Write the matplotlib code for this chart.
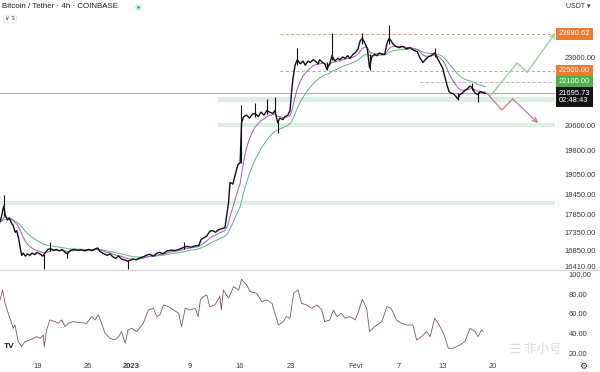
import matplotlib
matplotlib.use('Agg')
import matplotlib.pyplot as plt
import numpy as np
from matplotlib.transforms import blended_transform_factory
from matplotlib.ticker import NullLocator, NullFormatter
from matplotlib.lines import Line2D

plt.rcParams['font.family'] = ['Liberation Sans', 'DejaVu Sans']

# ---------------- data (x = days since 19 Dec 2022) ----------------
price_days = [
    -5.2, -5.0, -4.7, -4.5, -4.2, -3.9, -3.6, -3.4, -3.1, -2.9,
    -2.6, -2.4, -2.2, -2.0, -1.7, -1.4, -1.1, -0.8, -0.4, -0.1,
    0.3, 0.7, 1.0, 1.4, 1.8, 2.2, 2.6, 3.0, 3.4, 3.8,
    4.1, 4.5, 5.0, 5.5, 6.0, 6.5, 7.0, 7.5, 7.9, 8.3,
    8.6, 9.0, 9.6, 10.0, 10.4, 10.8, 11.2, 11.6, 12.0, 12.5,
    12.9, 13.2, 13.6, 14.0, 14.6, 15.0, 15.5, 16.0, 16.5, 16.9,
    17.3, 17.9, 18.5, 19.0, 19.5, 20.0, 20.4, 20.7, 21.2, 21.8,
    22.3, 22.6, 23.0, 23.4, 23.8, 24.2, 24.6, 25.0, 25.4, 25.9,
    26.2, 26.4, 26.6, 27.0, 27.4, 27.7, 28.0, 28.2, 28.5, 28.9,
    29.3, 29.7, 30.1, 30.5, 30.9, 31.3, 31.7, 32.1, 32.5, 32.8,
    33.2, 33.5, 33.9, 34.2, 34.6, 34.9, 35.1, 35.3, 35.6, 35.9,
    36.3, 36.7, 37.0, 37.4, 37.7, 38.1, 38.4, 38.8, 39.0, 39.4,
    39.7, 40.0, 40.4, 40.7, 41.1, 41.5, 41.8, 42.2, 42.5, 42.9,
    43.2, 43.6, 43.9, 44.3, 44.6, 44.9, 45.3, 45.6, 45.9, 46.2,
    46.6, 46.9, 47.3, 47.6, 48.0, 48.3, 48.6, 48.9, 49.1, 49.5,
    50.0, 50.5, 51.0, 51.5, 52.0, 52.5, 52.9, 53.3, 53.6, 54.0,
    54.4, 54.9, 55.3, 55.6, 56.0, 56.3, 56.6, 56.9, 57.2, 57.5,
    57.8, 58.1, 58.4, 58.8, 59.1, 59.4, 59.8, 60.1, 60.5, 60.9,
    61.2, 61.6, 61.9,
]
price_close = [
    17650, 17800, 18100, 17850, 17700, 17750, 17600, 17550, 17350, 17400,
    17150, 16900, 16720, 16780, 16700, 16760, 16720, 16780, 16740, 16800,
    16760, 16700, 16780, 16880, 16900, 16860, 16880, 16840, 16880, 16800,
    16760, 16850, 16880, 16860, 16870, 16840, 16880, 16850, 16890, 16920,
    16830, 16780, 16720, 16760, 16680, 16640, 16700, 16620, 16600, 16560,
    16600, 16620, 16600, 16640, 16680, 16720, 16750, 16700, 16780, 16800,
    16760, 16840, 16860, 16850, 16880, 16920, 16950, 16960, 16940, 16980,
    16990, 17150, 17200, 17250, 17380, 17400, 17350, 17420, 17450, 17480,
    17900, 18200, 18800, 18750, 19100, 19350, 19400, 20700, 20900, 20950,
    20850, 20980, 21000, 20900, 21050, 20950, 21100, 21050, 21000, 21100,
    20700, 20850, 20800, 20900, 20950, 21100, 21700, 22200, 22700, 22900,
    22750, 22850, 22700, 22850, 22800, 22900, 22850, 22750, 22900, 22800,
    22750, 22550, 22750, 23050, 22850, 22950, 22900, 23000, 22950, 23050,
    22950, 23100, 23150, 23300, 23600, 23700, 23500, 23300, 22600, 23000,
    23100, 23050, 23150, 23100, 23100, 23500, 23700, 23600, 23500, 23400,
    23350, 23400, 23300, 23350, 23250, 23200, 22950, 22800, 22900, 23000,
    23050, 23150, 22950, 22800, 22600, 22300, 22000, 21750, 21700, 21680,
    21600, 21500, 21650, 21720, 21800, 21850, 21950, 21900, 21700, 21650,
    21750, 21720, 21695.73,
]
wick_days = [-4.7, 0.9, 1.7, 4.1, 12.5, 20.2, 28.1, 30.1, 31.7, 32.8, 33.2,
             35.9, 40.0, 40.7, 44.9, 45.9, 48.6, 54.9, 58.1, 60.1, 60.9]
wick_low = [17800, 16370, 16850, 16650, 16370, 16900, 19400, 20900, 21000, 21000, 20350,
            22700, 22520, 22900, 23500, 22520, 23500, 23000, 21465, 21800, 21395]
wick_high = [18430, 16760, 17070, 16800, 16600, 17070, 21290, 21360, 21500, 21580, 20800,
             23340, 22800, 23900, 23900, 23100, 24215, 23340, 21700, 22058, 21750]

rsi_days = [
    -5.21, -4.85, -4.52, -4.06, -3.60, -3.37, -3.14, -2.91, -2.68, -2.22,
    -1.76, -1.07, -0.60, -0.14, 0.32, 0.78, 0.92, 1.24, 1.70, 2.39,
    2.85, 3.32, 3.78, 4.24, 4.93, 5.85, 6.77, 7.46, 7.93, 8.39,
    8.85, 9.31, 10.0, 10.7, 11.2, 11.6, 12.1, 12.5, 13.0, 13.7,
    14.6, 15.3, 16.0, 16.5, 16.9, 17.4, 18.1, 18.8, 19.5, 19.9,
    20.4, 21.1, 21.8, 22.2, 22.5, 22.9, 23.4, 23.8, 24.5, 25.2,
    25.4, 25.7, 26.4, 27.1, 27.8, 28.2, 28.9, 29.4, 30.3, 31.0,
    31.7, 32.4, 33.1, 33.3, 34.0, 34.4, 34.9, 35.4, 36.0, 36.5,
    37.2, 37.9, 38.6, 39.3, 39.7, 40.4, 40.9, 41.4, 42.0, 42.5,
    43.2, 43.9, 44.3, 44.9, 45.5, 45.9, 46.6, 47.6, 48.3, 48.9,
    49.6, 50.3, 51.0, 51.9, 52.4, 53.1, 53.8, 54.3, 54.9, 55.4,
    55.9, 56.3, 56.8, 57.5, 58.4, 59.1, 59.8, 60.5, 60.9, 61.4,
    61.6,
]
rsi_vals = [
    74.0, 84.1, 70.6, 60.5, 50.3, 45.2, 48.6, 40.2, 31.7, 26.7,
    31.7, 33.4, 35.1, 36.8, 35.1, 38.5, 26.7, 43.6, 53.7, 52.0,
    50.3, 53.7, 46.9, 50.3, 52.0, 51.0, 50.3, 57.1, 53.7, 58.8,
    50.3, 40.2, 35.1, 33.4, 36.8, 41.9, 30.0, 43.6, 45.2, 41.9,
    50.3, 63.8, 65.5, 57.1, 58.8, 68.9, 67.2, 63.8, 60.5, 46.9,
    65.5, 63.8, 65.5, 57.1, 74.0, 77.4, 79.1, 67.2, 68.9, 77.4,
    63.8, 84.1, 75.7, 87.5, 84.1, 94.9, 89.2, 82.4, 80.7, 72.3,
    74.0, 70.6, 53.7, 48.6, 52.0, 57.1, 55.4, 80.7, 84.1, 70.6,
    68.9, 65.5, 68.9, 63.8, 52.0, 53.7, 63.8, 57.1, 60.5, 55.4,
    57.1, 53.7, 60.5, 74.7, 65.5, 41.9, 46.9, 52.0, 67.2, 65.5,
    53.7, 50.3, 48.6, 48.6, 33.4, 36.8, 41.9, 36.8, 55.4, 50.3,
    43.6, 36.8, 25.0, 25.0, 28.4, 31.7, 45.2, 41.9, 36.8, 43.6,
    41.9,
]

price_ticks = [16410, 16850, 17350, 17850, 18450, 19050, 19800, 20600, 23000]
rsi_ticks = [20, 40, 60, 80, 100]
date_ticks = [0, 7, 13, 21, 28, 35, 44, 50, 56, 63]
date_labels = ['19', '26', '2023', '9', '16', '23', 'Févr', '7', '13', '20']

last_price = 21695.73
target_level = 23880.62
resist_level = 22500.00
pivot_level = 22100.00
zones = [(21400, 21560, 25.0), (20560, 20700, 25.0), (18130, 18260, -5.21)]
bull_path_days = [62.6, 66.3, 67.7, 71.6]
bull_path_price = [21603, 22780, 22450, 23906]
bear_path_days = [62.1, 64.2, 65.7, 69.2]
bear_path_price = [21708, 21122, 21500, 20685]

# ---------------- figure ----------------
W, H = 600, 372
fig = plt.figure(figsize=(6, 3.72), dpi=100)
fig.patch.set_facecolor('white')


def fx(x):
    return x / W


def fy(y):
    return 1 - y / H


XMIN, XMAX = -5.21, 71.55
ax = fig.add_axes([0, fy(270), fx(555), 270 / H])
axr = fig.add_axes([0, fy(357), fx(555), 87 / H], sharex=ax)

for a in (ax, axr):
    for s in a.spines.values():
        s.set_visible(False)
    a.set_facecolor('white')

ax.set_yscale('log')
ax.set_xlim(XMIN, XMAX)
ax.set_ylim(16331, 25208)

# zones
for lo, hi, start in zones:
    ax.fill_between([start, XMAX], lo, hi, color='#dcefe3', lw=0, zorder=1)

# level lines
ax.hlines(target_level, 33.5, XMAX, colors='#d9a25c', linestyles=(0, (3, 2.5)), lw=0.7, zorder=2)
ax.hlines(resist_level, 33.5, XMAX, colors='#b8a79a', linestyles=(0, (3, 2.5)), lw=0.7, zorder=2)
ax.hlines(pivot_level, 52.9, XMAX, colors='#b4b8b0', linestyles=(0, (3, 2.5)), lw=0.7, zorder=2)
ax.axhline(last_price, color='#a6a6a6', lw=0.7, zorder=2)


def ema(t, v, tau):
    out = [v[0]]
    for i in range(1, len(v)):
        a = 1 - np.exp(-(t[i] - t[i - 1]) / tau)
        out.append(out[-1] + a * (v[i] - out[-1]))
    return out


ax.plot(price_days, ema(price_days, price_close, 3.0), color='#5fb38a', lw=0.7, zorder=3)
ax.plot(price_days, ema(price_days, price_close, 1.2), color='#a05cb8', lw=0.7, zorder=3)
ax.vlines(wick_days, wick_low, wick_high, colors='#111111', lw=0.8, zorder=4)
ax.plot(price_days, price_close, color='#111111', lw=1.0, zorder=4)

# scenario arrows
ax.plot(bull_path_days[:-1], bull_path_price[:-1], color='#8fcf94', lw=0.9, zorder=5)
ax.annotate('', xy=(bull_path_days[-1], bull_path_price[-1]),
            xytext=(bull_path_days[-2], bull_path_price[-2]),
            arrowprops=dict(arrowstyle='->', color='#8fcf94', lw=0.9, mutation_scale=8,
                            shrinkA=0, shrinkB=0), zorder=5)
ax.plot(bear_path_days[:-1], bear_path_price[:-1], color='#c97a85', lw=0.9, zorder=5)
ax.annotate('', xy=(bear_path_days[-1], bear_path_price[-1]),
            xytext=(bear_path_days[-2], bear_path_price[-2]),
            arrowprops=dict(arrowstyle='->', color='#c97a85', lw=0.9, mutation_scale=8,
                            shrinkA=0, shrinkB=0), zorder=5)

# price scale
ax.yaxis.tick_right()
ax.set_yticks(price_ticks, labels=[f"{v:.2f}" for v in price_ticks])
ax.yaxis.set_minor_locator(NullLocator())
ax.yaxis.set_minor_formatter(NullFormatter())
ax.tick_params(axis='y', length=0, pad=7, labelsize=5.4, labelcolor='#3a3a3a')
ax.tick_params(axis='x', bottom=False, labelbottom=False)

tr = blended_transform_factory(fig.transFigure, ax.transData)
for val, col in [(target_level, '#ef7a2c'), (resist_level, '#ef7a2c'), (pivot_level, '#4caf50')]:
    ax.text(fx(559), val, f"{val:.2f}", transform=tr, ha='left', va='center', color='white',
            fontsize=5.4, bbox=dict(boxstyle='square,pad=0.35', fc=col, ec='none'), zorder=10)
ax.annotate(f"{last_price:.2f}\n02:48:43", xy=(fx(559), last_price), xycoords=tr,
            xytext=(0, -2.6), textcoords='offset points', ha='left', va='center',
            color='white', fontsize=5.4, linespacing=1.05,
            bbox=dict(boxstyle='square,pad=0.35', fc='#131313', ec='none'), zorder=10)

# RSI pane
axr.set_ylim(16.1, 104.4)
axr.plot(rsi_days, rsi_vals, color='#7d5863', lw=0.6)
axr.yaxis.tick_right()
axr.set_yticks(rsi_ticks, labels=[f"{v:.2f}" for v in rsi_ticks])
axr.tick_params(axis='y', length=0, pad=10, labelsize=5.4, labelcolor='#3a3a3a')
axr.set_xticks(date_ticks, labels=date_labels)
axr.tick_params(axis='x', length=0, pad=4.5, labelsize=5.4, labelcolor='#3a3a3a')
for lbl in axr.get_xticklabels():
    if lbl.get_text() == '2023':
        lbl.set_fontweight('bold')
axr.set_xlim(XMIN, XMAX)

# pane separator
fig.add_artist(Line2D([0, 1], [fy(269.5), fy(269.5)], transform=fig.transFigure,
                      color='#d4d4d4', lw=0.8))

# header texts
fig.text(fx(2), fy(7), 'Bitcoin / Tether · 4h · COINBASE', fontsize=5.7, color='#222222',
         ha='left', va='center')
fig.add_artist(Line2D([fx(138)], [fy(7)], transform=fig.transFigure, marker='o',
                      markersize=3.2, markerfacecolor='#089981',
                      markeredgecolor='#c8efe3', markeredgewidth=1.5, linestyle='none'))
fig.text(fx(5), fy(19), '∨ 3', fontsize=4.5, color='#333333', ha='left', va='center',
         bbox=dict(boxstyle='round,pad=0.25,rounding_size=0.3', fc='white', ec='#dddddd', lw=0.5))
fig.text(fx(566), fy(6), 'USDT ▾', fontsize=5, color='#333333', ha='left', va='center')

# footer
fig.text(fx(4), fy(347), 'TV', fontsize=6, fontweight='bold', color='#131722', ha='left', va='center')
fig.text(fx(583), fy(366), '⚙', fontsize=6.5, color='#333333', ha='center', va='center')
fig.text(fx(536), fy(349), '☰ 非小号', fontsize=9, color='#d2d2d2', alpha=0.8,
         ha='center', va='center', family=['Noto Sans CJK SC', 'DejaVu Sans'])

fig.savefig('out.png', dpi=100, facecolor='white')
